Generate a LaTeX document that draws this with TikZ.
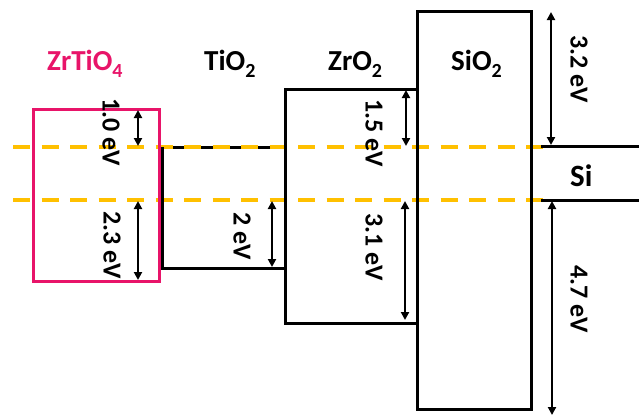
\documentclass[tikz,border=0pt]{standalone}
\usepackage{fontspec}
\setmainfont{Carlito}
\usetikzlibrary{arrows.meta}
\definecolor{gold}{RGB}{255,192,0}
\definecolor{mypink}{RGB}{232,20,105}
\newcommand{\sbs}[1]{\raisebox{-7pt}{\fontsize{20}{20}\selectfont #1}}
\begin{document}
\begin{tikzpicture}[x=1pt,y=-1pt,
  band/.style={line width=3pt},
  fermi/.style={gold, line width=4pt, dash pattern=on 17pt off 11.5pt},
  gaparrow/.style={line width=2pt, {Triangle[length=8pt,width=8pt]}-{Triangle[length=8pt,width=8pt]}},
  ttl/.style={font=\fontsize{29}{32}\selectfont\bfseries, anchor=base west, inner sep=0pt},
  evlbl/.style={font=\fontsize{26}{29}\selectfont\bfseries, rotate=-90, inner sep=0pt}]
\useasboundingbox (0,0) rectangle (639,416);
% TiO2 conduction band (under the Fermi dashes)
\coordinate (tcb1) at (162,147);
\coordinate (tcb2) at (285,147);
\draw[band] (tcb1) -- (tcb2);
% Fermi / band-edge dashed lines
\coordinate (f1a) at (13,147);
\coordinate (f1b) at (550,147);
\coordinate (f2a) at (13,200);
\coordinate (f2b) at (553,200);
\draw[fermi] (f1a) -- (f1b);
\draw[fermi] (f2a) -- (f2b);
% ZrTiO4
\draw[band, mypink] (33,109) rectangle (159,281);
% TiO2 valence band
\coordinate (tv1) at (162,147);
\coordinate (tv2) at (162,268);
\coordinate (tv3) at (285,268);
\draw[band] (tv1) -- (tv2) -- (tv3);
% ZrO2
\draw[band] (285,89) rectangle (417,323);
% SiO2
\draw[band] (417,11) rectangle (531,409);
% Si
\coordinate (s1a) at (541,146);
\coordinate (s1b) at (639,146);
\coordinate (s2a) at (541,200);
\coordinate (s2b) at (639,200);
\draw[band] (s1a) -- (s1b);
\draw[band] (s2a) -- (s2b);
% arrows
\coordinate (a1t) at (138,110); \coordinate (a1b) at (138,146);
\coordinate (a2t) at (138,201); \coordinate (a2b) at (138,280);
\coordinate (a3t) at (272,201); \coordinate (a3b) at (272,267);
\coordinate (a4t) at (406,90);  \coordinate (a4b) at (406,146);
\coordinate (a5t) at (405,201); \coordinate (a5b) at (405,320);
\coordinate (a6t) at (551,12);  \coordinate (a6b) at (551,145);
\coordinate (a7t) at (552,201); \coordinate (a7b) at (552,415);
\draw[gaparrow] (a1t) -- (a1b);
\draw[gaparrow] (a2t) -- (a2b);
\draw[gaparrow] (a3t) -- (a3b);
\draw[gaparrow] (a4t) -- (a4b);
\draw[gaparrow] (a5t) -- (a5b);
\draw[gaparrow] (a6t) -- (a6b);
\draw[gaparrow] (a7t) -- (a7b);
% labels
\node[evlbl] (l1) at (111,132) {1.0 eV};
\node[evlbl] (l2) at (112,245) {2.3 eV};
\node[evlbl] (l3) at (242,236) {2 eV};
\node[evlbl] (l4) at (374,133) {1.5 eV};
\node[evlbl] (l5) at (374,247) {3.1 eV};
\node[evlbl] (l6) at (579,69) {3.2 eV};
\node[evlbl] (l7) at (579,299) {4.7 eV};
% titles
\node[ttl, text=mypink] (t1) at (47,70.5) {ZrTiO\sbs{4}};
\node[ttl] (t2) at (204,70.5) {TiO\sbs{2}};
\node[ttl] (t3) at (328,70.5) {ZrO\sbs{2}};
\node[ttl] (t4) at (451,70.5) {SiO\sbs{2}};
\node[ttl, font=\fontsize{31}{34}\selectfont\bfseries] (t5) at (570,186) {Si};
\end{tikzpicture}
\end{document}
